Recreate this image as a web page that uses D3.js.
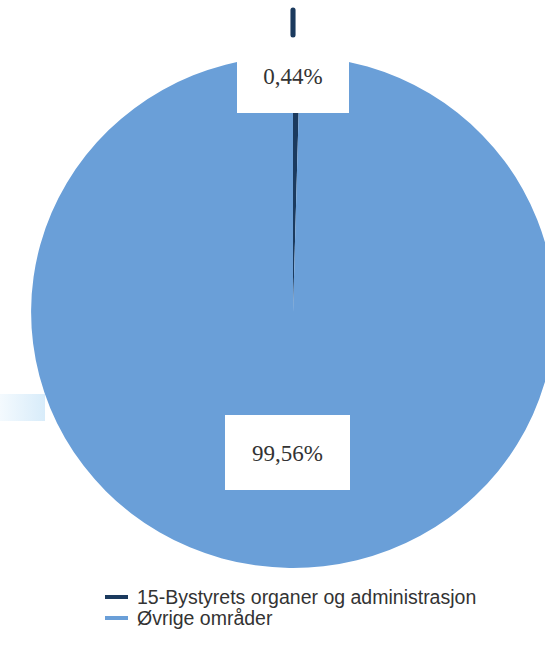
<!DOCTYPE html>
<html><head><meta charset="utf-8">
<script src="https://cdn.jsdelivr.net/npm/d3@7"></script>
<style>body{margin:0;background:#fff}svg{display:block}</style>
</head><body>
<svg id="c" width="545" height="649"></svg>
<script>
const categories = ["15-Bystyrets organer og administrasjon", "Øvrige områder"];
const values = [0.44, 99.56];
const labels = ["0,44%", "99,56%"];
const colors = ["#1b3a5e", "#6a9fd8"];

const svg = d3.select("#c");
const cx = 293, cy = 312, r = 256;

// faint artifact strip at left
const grad = svg.append("defs").append("linearGradient").attr("id", "gl");
grad.append("stop").attr("offset", "0%").attr("stop-color", "#f4fafe");
grad.append("stop").attr("offset", "100%").attr("stop-color", "#d8ecfa");
svg.append("rect").attr("x", 0).attr("y", 394).attr("width", 45).attr("height", 27).attr("fill", "url(#gl)");

const pie = d3.pie().sort(null).value(d => d)(values);
const arc = d3.arc().innerRadius(0).outerRadius(r);
const g = svg.append("g").attr("transform", `translate(${cx},${cy}) scale(1.023,1)`);
g.selectAll("path").data(pie).join("path")
  .attr("d", arc).attr("fill", (d, i) => colors[i]);

// small dark mark above the small slice
const a0 = pie[0].startAngle;
const line = d3.lineRadial();
g.append("path").attr("d", line([[a0, r + 21], [a0, r + 46]]))
  .attr("stroke", colors[0]).attr("stroke-width", 5).attr("stroke-linecap", "round");

// label boxes
const boxes = [
  {x: 237, y: 38, w: 112, h: 75},
  {x: 225, y: 415, w: 125, h: 75}
];
boxes.forEach((b, i) => {
  svg.append("rect").attr("x", b.x).attr("y", b.y).attr("width", b.w).attr("height", b.h).attr("fill", "#fff");
  svg.append("text").attr("x", b.x + b.w / 2).attr("y", b.y + b.h / 2 + 8)
    .attr("text-anchor", "middle").attr("font-family", "Liberation Serif, serif")
    .attr("font-size", 23).attr("fill", "#333").text(labels[i]);
});

// legend
const lg = svg.append("g").attr("transform", "translate(105,597)");
categories.forEach((c, i) => {
  const row = lg.append("g").attr("transform", `translate(0,${i * 21})`);
  row.append("line").attr("x1", 0).attr("x2", 23).attr("y1", 0).attr("y2", 0)
    .attr("stroke", colors[i]).attr("stroke-width", 4);
  row.append("text").attr("x", 32).attr("y", 7).attr("font-family", "Liberation Sans, Arial, sans-serif")
    .attr("font-size", 19.5).attr("fill", "#333").text(c);
});
</script>
</body></html>
